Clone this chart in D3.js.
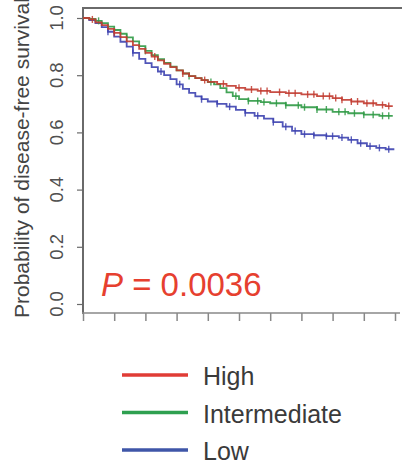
<!DOCTYPE html>
<html lang="en">
<head>
  <meta charset="UTF-8">
  <title>Disease-free survival by group</title>
  <script src="https://cdnjs.cloudflare.com/ajax/libs/d3/7.8.5/d3.min.js"></script>
  <style>
    body { margin: 0; padding: 0; background: #fff; }
    svg { display: block; font-family: Arial, "Liberation Sans", sans-serif; }
  </style>
</head>
<body>
<svg id="chart" width="402" height="460"></svg>
<script>
  // Kaplan-Meier step values (time, survival)
  const groups = ["High", "Intermediate", "Low"];
  const highTimes = [0, 0.2, 0.4, 0.6, 0.8, 1.0, 1.2, 1.4, 1.6, 1.8, 2.0, 2.2, 2.4, 2.6, 2.8, 3.0, 3.2, 3.4, 3.6, 3.8, 4.0, 4.3, 4.6, 4.9, 5.2, 5.6, 6.0, 6.5, 7.0, 7.5, 8.0, 8.3, 8.6, 9.0, 9.4, 9.7, 9.9];
  const highSurv  = [1, 0.995, 0.985, 0.975, 0.962, 0.948, 0.933, 0.918, 0.905, 0.892, 0.878, 0.865, 0.852, 0.84, 0.828, 0.817, 0.806, 0.797, 0.79, 0.783, 0.777, 0.77, 0.763, 0.756, 0.75, 0.745, 0.741, 0.737, 0.733, 0.727, 0.72, 0.714, 0.708, 0.702, 0.696, 0.692, 0.689];
  const interTimes = [0, 0.2, 0.4, 0.6, 0.8, 1.0, 1.2, 1.4, 1.6, 1.8, 2.0, 2.2, 2.4, 2.6, 2.8, 3.0, 3.2, 3.4, 3.6, 3.8, 4.0, 4.2, 4.4, 4.6, 4.8, 5.0, 5.3, 5.7, 6.0, 6.5, 7.0, 7.5, 8.0, 8.5, 9.0, 9.5, 9.9];
  const interSurv  = [1, 0.997, 0.99, 0.982, 0.97, 0.958, 0.945, 0.932, 0.918, 0.902, 0.885, 0.87, 0.856, 0.843, 0.83, 0.817, 0.806, 0.797, 0.79, 0.783, 0.776, 0.768, 0.755, 0.74, 0.727, 0.716, 0.71, 0.706, 0.702, 0.695, 0.688, 0.68, 0.672, 0.667, 0.662, 0.658, 0.655];
  const lowTimes = [0, 0.2, 0.4, 0.6, 0.8, 1.0, 1.2, 1.4, 1.6, 1.8, 2.0, 2.2, 2.4, 2.6, 2.8, 3.0, 3.2, 3.4, 3.6, 3.8, 4.0, 4.3, 4.6, 4.9, 5.2, 5.5, 5.8, 6.1, 6.4, 6.7, 7.0, 7.4, 7.8, 8.2, 8.5, 8.8, 9.1, 9.4, 9.7, 9.95];
  const lowSurv  = [1, 0.993, 0.982, 0.968, 0.952, 0.935, 0.917, 0.9, 0.878, 0.857, 0.842, 0.828, 0.813, 0.8, 0.786, 0.768, 0.752, 0.738, 0.726, 0.716, 0.708, 0.7, 0.69, 0.679, 0.668, 0.658, 0.648, 0.636, 0.62, 0.605, 0.594, 0.59, 0.587, 0.582, 0.574, 0.562, 0.552, 0.546, 0.541, 0.538];
  // censoring marks (times)
  const highCens = [0.3, 1.0, 2.3, 3.2, 3.9, 4.5, 5.0, 5.4, 5.7, 5.9, 6.3, 6.6, 6.8, 7.2, 7.4, 7.7, 7.9, 8.1, 8.3, 8.6, 8.8, 9.1, 9.3, 9.6, 9.8];
  const interCens = [0.5, 1.4, 2.0, 3.4, 4.1, 4.9, 5.3, 5.6, 5.8, 6.2, 6.5, 6.9, 7.1, 7.5, 7.8, 8.2, 8.4, 8.7, 9.0, 9.3, 9.6, 9.8];
  const lowCens = [0.8, 1.6, 2.5, 3.1, 3.8, 4.3, 4.7, 5.2, 5.6, 6.1, 6.5, 6.8, 7.1, 7.4, 7.8, 8.0, 8.3, 8.6, 8.9, 9.2, 9.5, 9.8];
  const yTicks = [0, 0.2, 0.4, 0.6, 0.8, 1.0];
  const xTicks = [0, 1, 2, 3, 4, 5, 6, 7, 8, 9, 10];
  const pText = "0.0036";

  const curveColors = { "High": "#c23b30", "Intermediate": "#2f9a45", "Low": "#3d42b0" };
  const legendColors = { "High": "#e03c36", "Intermediate": "#2ea050", "Low": "#3f56a8" };

  const series = [
    { name: "High", times: highTimes, surv: highSurv, cens: highCens },
    { name: "Intermediate", times: interTimes, surv: interSurv, cens: interCens },
    { name: "Low", times: lowTimes, surv: lowSurv, cens: lowCens }
  ];

  const svg = d3.select("#chart");
  const x = d3.scaleLinear().domain([0, 10]).range([83, 395]);
  const y = d3.scaleLinear().domain([0, 1]).range([304, 18]);
  const axisColor = "#6a6a6a", textColor = "#505050";

  // top frame line
  svg.append("line")
    .attr("x1", 83).attr("x2", 402).attr("y1", 8).attr("y2", 8)
    .attr("stroke", axisColor).attr("stroke-width", 2);

  // left axis
  const yAxis = svg.append("g")
    .attr("transform", "translate(83,0)")
    .call(d3.axisLeft(y).tickValues(yTicks).tickSize(6).tickFormat(""));
  yAxis.select(".domain").remove();
  yAxis.selectAll(".tick line").attr("stroke", axisColor).attr("stroke-width", 1.2);
  svg.append("line")
    .attr("x1", 83).attr("x2", 83).attr("y1", 7).attr("y2", 314)
    .attr("stroke", axisColor).attr("stroke-width", 2);
  svg.append("g").selectAll("text")
    .data(yTicks)
    .join("text")
    .attr("transform", d => `translate(63,${y(d)}) rotate(-90)`)
    .attr("text-anchor", "middle")
    .attr("font-size", 18.5)
    .attr("fill", textColor)
    .text(d3.format(".1f"));

  // bottom axis
  const xAxis = svg.append("g")
    .attr("transform", "translate(0,313)")
    .call(d3.axisBottom(x).tickValues(xTicks).tickSize(8).tickFormat(""));
  xAxis.select(".domain").remove();
  xAxis.selectAll(".tick line").attr("stroke", "#888").attr("stroke-width", 1.5);
  svg.append("line")
    .attr("x1", 82).attr("x2", 400).attr("y1", 313).attr("y2", 313)
    .attr("stroke", "#888").attr("stroke-width", 1.5);

  // y label
  svg.append("text")
    .attr("transform", "translate(29,318) rotate(-90)")
    .attr("font-size", 21)
    .attr("fill", "#444")
    .text("Probability of disease-free survival");

  // curves
  const line = d3.line().curve(d3.curveStepAfter).x(d => x(d[0])).y(d => y(d[1]));
  const stepAt = (s, t) => s.surv[d3.bisectRight(s.times, t) - 1];

  series.slice().reverse().forEach(s => {
    const pts = s.times.map((t, i) => [t, s.surv[i]]);
    svg.append("path")
      .attr("d", line(pts))
      .attr("fill", "none")
      .attr("stroke", curveColors[s.name])
      .attr("stroke-width", 1.8)
      .attr("opacity", 0.9);
    svg.append("g").selectAll("line")
      .data(s.cens)
      .join("line")
      .attr("x1", d => x(d)).attr("x2", d => x(d))
      .attr("y1", d => y(stepAt(s, d)) - 3.5)
      .attr("y2", d => y(stepAt(s, d)) + 3.5)
      .attr("stroke", curveColors[s.name])
      .attr("stroke-width", 1.4)
      .attr("opacity", 0.85);
  });

  // P value
  const pt = svg.append("text")
    .attr("x", 101).attr("y", 296)
    .attr("font-size", 33)
    .attr("fill", "#e6402f");
  pt.append("tspan").attr("font-style", "italic").text("P");
  pt.append("tspan").text(" = " + pText);

  // legend
  const lg = svg.append("g").selectAll("g")
    .data(groups)
    .join("g")
    .attr("transform", (d, i) => `translate(0,${375 + i * 37.5})`);
  lg.append("line")
    .attr("x1", 122).attr("x2", 188)
    .attr("stroke", d => legendColors[d])
    .attr("stroke-width", 3.5);
  lg.append("text")
    .attr("x", 203).attr("y", 10)
    .attr("font-size", 25)
    .attr("fill", "#3a3a3a")
    .text(d => d);
</script>
</body>
</html>
